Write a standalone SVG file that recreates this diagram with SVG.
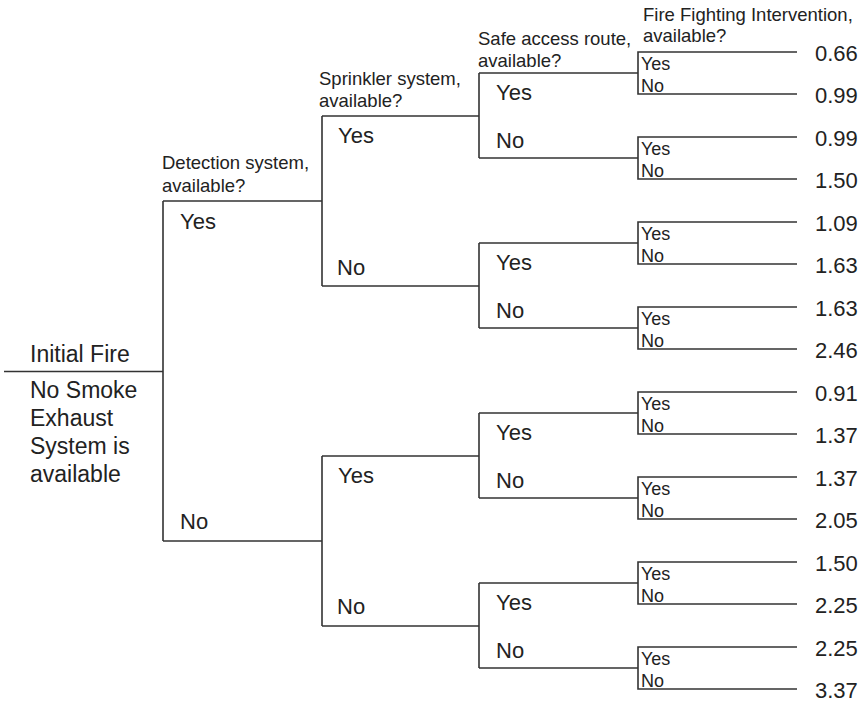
<svg xmlns="http://www.w3.org/2000/svg" width="865" height="708" viewBox="0 0 865 708">
<style>
  text { font-family: "Liberation Sans", Arial, sans-serif; fill: #222; }
  .hdr { font-size: 18.5px; }
  .big { font-size: 22px; }
  .ini { font-size: 23px; }
  .sm { font-size: 18px; }
  .val { font-size: 22px; }
  .conn path { fill: none; stroke: #333; stroke-width: 1.6; }
</style>
<rect width="865" height="708" fill="#fff"/>
<g id="headers">
  <text class="hdr" x="162" y="169">Detection system,</text>
  <text class="hdr" x="162" y="192">available?</text>
  <text class="hdr" x="319" y="85">Sprinkler system,</text>
  <text class="hdr" x="319" y="107">available?</text>
  <text class="hdr" x="478" y="45">Safe access route,</text>
  <text class="hdr" x="478" y="67">available?</text>
  <text class="hdr" x="643" y="21">Fire Fighting Intervention,</text>
  <text class="hdr" x="643" y="42">available?</text>
</g>
<g class="conn" id="connectors">
  <path d="M4 371.5H163"/>
  <path d="M163 201V541M163 201H322M163 541H322"/>
  <path d="M322 116V286M322 456V626"/>
  <path d="M322 116H479M322 286H479M322 456H479M322 626H479"/>
  <path d="M479 73V158M479 243V328M479 413V498M479 583V668"/>
  <path d="M479 73H638M479 158H638M479 243H638M479 328H638M479 413H638M479 498H638M479 583H638M479 668H638"/>
  <path d="M797 52H638V94H797M797 137H638V179H797M797 222H638V264H797M797 307H638V349H797M797 392H638V434H797M797 477H638V519H797M797 562H638V604H797M797 647H638V689H797"/>
</g>
<g id="initial-fire">
  <text class="ini" x="30" y="362">Initial Fire</text>
  <text class="ini" x="30" y="398">No Smoke</text>
  <text class="ini" x="30" y="426">Exhaust</text>
  <text class="ini" x="30" y="454">System is</text>
  <text class="ini" x="30" y="482">available</text>
</g>
<g id="detection">
  <text class="big" x="180" y="229">Yes</text>
  <text class="big" x="180" y="529">No</text>
</g>
<g id="sprinkler-1">
  <text class="big" x="338" y="143">Yes</text>
  <text class="big" x="337" y="275">No</text>
</g>
<g id="sprinkler-2">
  <text class="big" x="338" y="483">Yes</text>
  <text class="big" x="337" y="614">No</text>
</g>
<g id="access-1"><text class="big" x="496" y="100">Yes</text><text class="big" x="496" y="148">No</text></g>
<g id="access-2"><text class="big" x="496" y="270">Yes</text><text class="big" x="496" y="318">No</text></g>
<g id="access-3"><text class="big" x="496" y="440">Yes</text><text class="big" x="496" y="488">No</text></g>
<g id="access-4"><text class="big" x="496" y="610">Yes</text><text class="big" x="496" y="658">No</text></g>
<g id="ffi-1"><text class="sm" x="641" y="70">Yes</text><text class="sm" x="641" y="91.5">No</text><text class="val" x="815" y="61">0.66</text><text class="val" x="815" y="102.5">0.99</text></g>
<g id="ffi-2"><text class="sm" x="641" y="155">Yes</text><text class="sm" x="641" y="176.5">No</text><text class="val" x="815" y="146">0.99</text><text class="val" x="815" y="187.5">1.50</text></g>
<g id="ffi-3"><text class="sm" x="641" y="240">Yes</text><text class="sm" x="641" y="261.5">No</text><text class="val" x="815" y="231">1.09</text><text class="val" x="815" y="272.5">1.63</text></g>
<g id="ffi-4"><text class="sm" x="641" y="325">Yes</text><text class="sm" x="641" y="346.5">No</text><text class="val" x="815" y="316">1.63</text><text class="val" x="815" y="357.5">2.46</text></g>
<g id="ffi-5"><text class="sm" x="641" y="410">Yes</text><text class="sm" x="641" y="431.5">No</text><text class="val" x="815" y="401">0.91</text><text class="val" x="815" y="442.5">1.37</text></g>
<g id="ffi-6"><text class="sm" x="641" y="495">Yes</text><text class="sm" x="641" y="516.5">No</text><text class="val" x="815" y="486">1.37</text><text class="val" x="815" y="527.5">2.05</text></g>
<g id="ffi-7"><text class="sm" x="641" y="580">Yes</text><text class="sm" x="641" y="601.5">No</text><text class="val" x="815" y="571">1.50</text><text class="val" x="815" y="612.5">2.25</text></g>
<g id="ffi-8"><text class="sm" x="641" y="665">Yes</text><text class="sm" x="641" y="686.5">No</text><text class="val" x="815" y="656">2.25</text><text class="val" x="815" y="697.5">3.37</text></g>
</svg>
